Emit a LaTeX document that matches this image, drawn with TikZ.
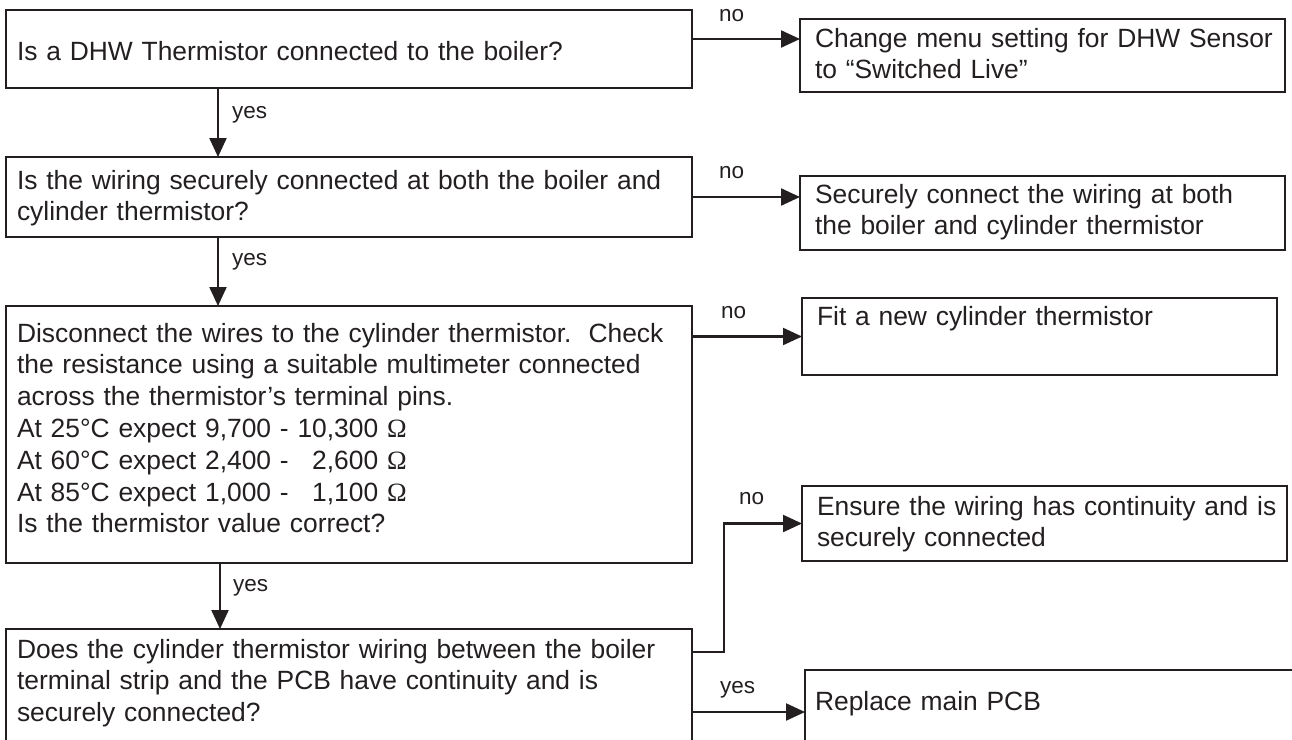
\documentclass[tikz,border=0pt]{standalone}
\usepackage{fontspec}
\setmainfont{Liberation Sans}
\newfontfamily\omegafont{Liberation Serif}
\usetikzlibrary{arrows.meta}
\definecolor{ink}{HTML}{231F20}
\newcommand{\myohm}{{\omegafont Ω}}
\begin{document}
\begin{tikzpicture}[x=1pt,y=-1pt,
  box/.style={draw=ink, line width=2.2pt, anchor=north west, inner ysep=0pt, outer sep=0pt,
    align=left, text=ink, font=\fontsize{26.4}{31.8}\selectfont},
  lbl/.style={text=ink, inner sep=0pt, anchor=base west, font=\fontsize{22.5}{27}\selectfont},
  arr/.style={draw=ink, line width=2.2pt, -{Triangle[length=19pt,width=17pt]}}]
\useasboundingbox (0,0) rectangle (1292,739);
\clip (0,0) rectangle (1292,739);

% left column questions
\node[box, text width=664pt, inner xsep=11pt, text height=50pt, text depth=28pt] (q1) at (6,10)
  {\mbox{Is a DHW Thermistor connected to the boiler?}};
\node[box, text width=664pt, inner xsep=11pt, text height=32pt, text depth=48pt] (q2) at (6,157)
  {\mbox{Is the wiring securely connected at both the boiler and}\\\mbox{cylinder thermistor?}};
\node[box, text width=664pt, inner xsep=11pt, text height=36pt, text depth=221pt] (q3) at (6,306)
  {\mbox{Disconnect the wires to the cylinder thermistor.\hspace{17pt}Check}\\
   \mbox{the resistance using a suitable multimeter connected}\\
   \mbox{across the thermistor’s terminal pins.}\\
   \mbox{At 25°C expect 9,700 - 10,300 \myohm}\\
   \mbox{At 60°C expect 2,400 - \phantom{0}2,600 \myohm}\\
   \mbox{At 85°C expect 1,000 - \phantom{0}1,100 \myohm}\\
   \mbox{Is the thermistor value correct?}};
\node[box, text width=664pt, inner xsep=11pt, text height=29pt, text depth=142pt] (q4) at (6,629)
  {\mbox{Does the cylinder thermistor wiring between the boiler}\\\mbox{terminal strip and the PCB have continuity and is}\\\mbox{securely connected?}};

% right column actions
\node[box, text width=455pt, inner xsep=15pt, text height=28pt, text depth=45pt] (a1) at (800,19)
  {\mbox{Change menu setting for DHW Sensor}\\\mbox{to “Switched Live”}};
\node[box, text width=455pt, inner xsep=15pt, text height=27pt, text depth=47pt] (a2) at (800,176)
  {\mbox{Securely connect the wiring at both}\\\mbox{the boiler and cylinder thermistor}};
\node[box, text width=445pt, inner xsep=15pt, text height=27pt, text depth=50pt] (a3) at (802,298)
  {\mbox{Fit a new cylinder thermistor}};
\node[box, text width=455pt, inner xsep=15pt, text height=29pt, text depth=46pt] (a4) at (802,486)
  {\mbox{Ensure the wiring has continuity and is}\\\mbox{securely connected}};
\node[box, text width=500pt, inner xsep=10pt, text height=40pt, text depth=90pt] (a5) at (805,670)
  {\mbox{Replace main PCB}};

% yes connectors (down)
\draw[arr] ([xshift=212pt]q1.south west) -- ([xshift=212pt]q1.south west |- q2.north);
\draw[arr] ([xshift=212pt]q2.south west) -- ([xshift=212pt]q2.south west |- q3.north);
\draw[arr] ([xshift=214pt]q3.south west) -- ([xshift=214pt]q3.south west |- q4.north);

% no connectors (right)
\draw[arr] ([yshift=10pt]q1.east) -- ([yshift=10pt]q1.east -| a1.west);
\draw[arr] (q2.east) -- (q2.east -| a2.west);
\draw[arr] (a3.west -| q3.east) -- (a3.west);
\draw[arr] ([yshift=-23pt]q4.north east) -- ++(32,0) |- (a4.west);
\draw[arr] ([yshift=-83pt]q4.north east) -- ([yshift=-83pt]q4.north east -| a5.west);

% labels
\node[lbl] (y1) at (232,118) {yes};
\node[lbl] (y2) at (232,265) {yes};
\node[lbl] (y3) at (233,591) {yes};
\node[lbl] (n1) at (719,21) {no};
\node[lbl] (n2) at (719,178) {no};
\node[lbl] (n3) at (721,318) {no};
\node[lbl] (n4) at (739,504) {no};
\node[lbl] (y4) at (720,693) {yes};
\end{tikzpicture}
\end{document}
